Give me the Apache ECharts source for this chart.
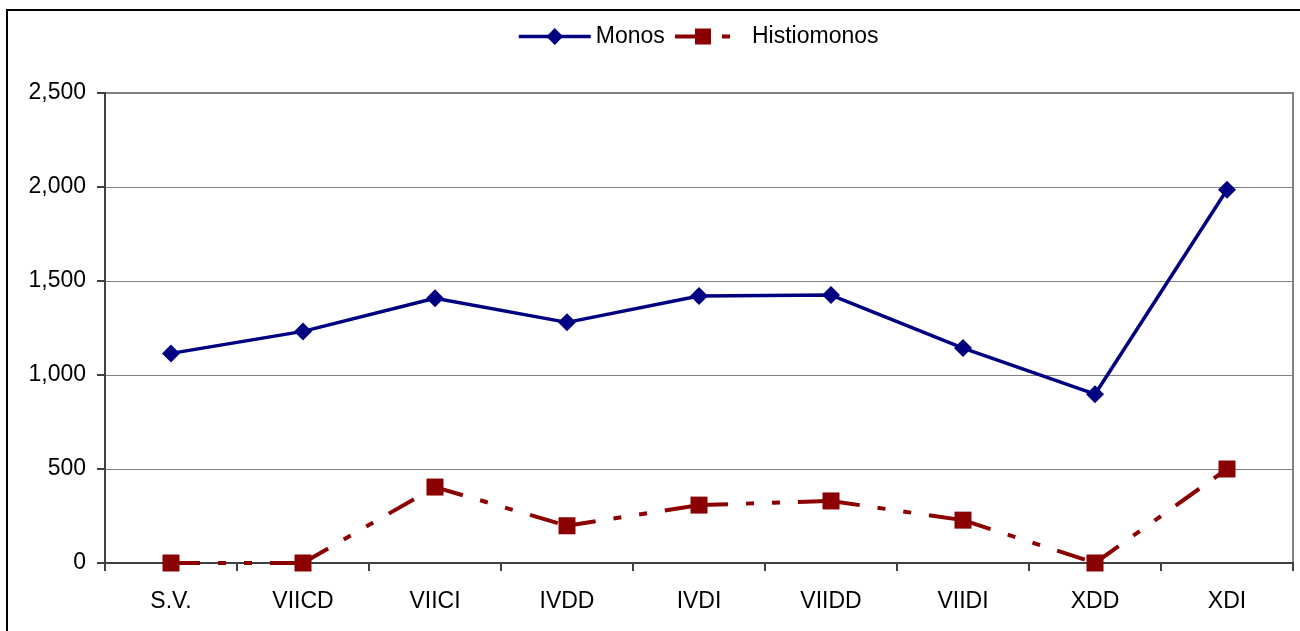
<!DOCTYPE html>
<html>
<head>
<meta charset="utf-8">
<script src="https://cdn.jsdelivr.net/npm/echarts@6/dist/echarts.min.js"></script>
<style>
  html, body { margin: 0; padding: 0; background: #fff; }
  #chart { width: 1300px; height: 631px; }
</style>
</head>
<body>
<div id="chart"></div>
<script>
// Category labels along the x axis
const categories = ['S.V.', 'VIICD', 'VIICI', 'IVDD', 'IVDI', 'VIIDD', 'VIIDI', 'XDD', 'XDI'];
// Series values
const monos = [1115, 1232, 1408, 1280, 1420, 1425, 1143, 898, 1985];
const histiomonos = [0, 0, 404, 198, 308, 330, 228, 0, 500];
// Value axis settings
const yMin = 0;
const yMax = 2500;
const yStep = 500;

const FONT = '"Liberation Sans", Arial, sans-serif';
const NAVY = '#000080';
const MAROON = '#8b0000';
// long dash, dot, dot – restarted on every segment between two points
const DASH = [29, 18, 8, 18, 8, 18];

const chart = echarts.init(document.getElementById('chart'));

// One short line series per pair of neighbouring points, so the dash
// pattern starts afresh at each marker.
const histSegments = histiomonos.slice(0, -1).map((_, i) => ({
  name: 'Histiomonos',
  type: 'line',
  data: histiomonos.map((v, j) => (j === i || j === i + 1 ? v : '-')),
  showSymbol: false,
  symbol: 'none',
  silent: true,
  z: 2,
  lineStyle: { color: MAROON, width: 4, type: DASH }
}));

chart.setOption({
  animation: false,
  backgroundColor: '#ffffff',
  textStyle: { fontFamily: FONT },
  graphic: [{
    type: 'rect',
    shape: { x: 7, y: 10, width: 1400, height: 700 },
    style: { fill: 'none', stroke: '#000', lineWidth: 2 },
    silent: true
  }],
  legend: [{
    data: [{ name: 'Monos', lineStyle: { width: 3.5, color: NAVY } }],
    left: 517, top: 25, padding: 0,
    itemWidth: 72, itemHeight: 21,
    textStyle: { fontSize: 23, color: '#000', fontFamily: FONT }
  }, {
    data: [{
      name: 'Histiomonos',
      lineStyle: { width: 4, color: MAROON, type: DASH, opacity: 1 }
    }],
    left: 673, top: 25, padding: 0,
    itemWidth: 56, itemHeight: 20,
    textStyle: { fontSize: 23, color: '#000', fontFamily: FONT, padding: [0, 0, 0, 16] }
  }],
  grid: {
    left: 105, right: 7, top: 93, bottom: 68,
    show: true, borderColor: '#808080', borderWidth: 2
  },
  xAxis: {
    type: 'category',
    data: categories,
    boundaryGap: true,
    axisLine: { lineStyle: { color: '#404040', width: 2 } },
    axisTick: { show: true, length: 8, lineStyle: { color: '#404040', width: 2 } },
    axisLabel: { fontSize: 23, color: '#000', margin: 27, fontFamily: FONT }
  },
  yAxis: {
    type: 'value',
    min: yMin, max: yMax, interval: yStep,
    axisLine: { show: true, lineStyle: { color: '#404040', width: 2 } },
    axisTick: { show: true, length: 8, lineStyle: { color: '#404040', width: 2 } },
    splitLine: { lineStyle: { color: '#808080', width: 1 } },
    axisLabel: {
      fontSize: 23, color: '#000', margin: 19, fontFamily: FONT,
      formatter: v => v.toLocaleString('en-US')
    }
  },
  series: [{
    name: 'Monos',
    type: 'line',
    data: monos,
    symbol: 'diamond',
    symbolSize: 18,
    z: 3,
    itemStyle: { color: NAVY },
    lineStyle: { color: NAVY, width: 3.5 }
  }, {
    // markers of the second series; its connecting line is drawn by the segments
    name: 'Histiomonos',
    type: 'line',
    data: histiomonos,
    symbol: 'rect',
    symbolSize: 17,
    z: 4,
    itemStyle: { color: MAROON },
    lineStyle: { color: MAROON, width: 0, opacity: 0 }
  }, ...histSegments]
});
</script>
</body>
</html>
